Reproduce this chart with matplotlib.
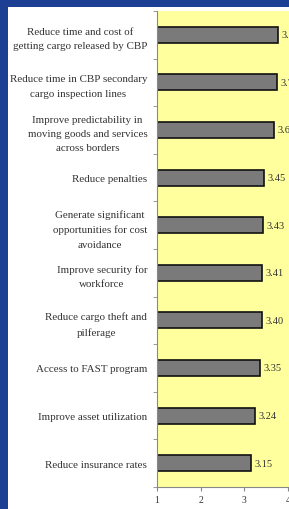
import matplotlib.pyplot as plt
from matplotlib.patches import Rectangle
import numpy as np

# Benefit categories, top to bottom
categories = [
    "Reduce time and cost of\ngetting cargo released by CBP",
    "Reduce time in CBP secondary\ncargo inspection lines",
    "Improve predictability in\nmoving goods and services\nacross borders",
    "Reduce penalties",
    "Generate significant\nopportunities for cost\navoidance",
    "Improve security for\nworkforce",
    "Reduce cargo theft and\npilferage",
    "Access to FAST program",
    "Improve asset utilization",
    "Reduce insurance rates",
]
scores = [3.78, 3.75, 3.67, 3.45, 3.43, 3.41, 3.40, 3.35, 3.24, 3.15]
x_ticks = [1, 2, 3, 4]

W, H = 289, 510
fig = plt.figure(figsize=(W / 100, H / 100), dpi=100)
fig.patch.set_facecolor("#1c3f94")
# white slide panel
fig.patches.append(Rectangle((8 / W, 0), 1, (H - 8) / H, transform=fig.transFigure,
                             facecolor="white", edgecolor="none", zorder=-10))

px_per_unit = 43.7
ax = fig.add_axes([157 / W, 22 / H, 3.6 * px_per_unit / W, 476 / H])
ax.set_facecolor("#ffff9e")

y = np.arange(len(categories))
ax.barh(y, [s - 1 for s in scores], left=1, height=0.34, color="#7a7a7a",
        edgecolor="#111111", linewidth=1.2)
for yi, s in zip(y, scores):
    ax.text(s + 0.08, yi, f"{s:.2f}", va="center", ha="left", fontsize=7.5,
            family="Liberation Serif", color="#333333", clip_on=False)

ax.set_xlim(1, 4.6)
ax.set_ylim(len(categories) - 0.5, -0.5)
ax.set_xticks(x_ticks)
ax.set_xticklabels([str(t) for t in x_ticks], family="Liberation Serif", fontsize=7)
ax.set_yticks(y)
ax.set_yticklabels(categories, family="Liberation Serif", fontsize=7.9,
                   linespacing=1.75, multialignment="center", color="#333333")
ax.set_yticks(np.arange(-0.5, len(categories), 1), minor=True)
ax.tick_params(axis="y", which="major", length=0, pad=7)
ax.tick_params(axis="y", which="minor", length=3, color="#888888")
ax.tick_params(axis="x", length=3, color="#888888", pad=3, labelcolor="#333333")

for side in ["top", "right"]:
    ax.spines[side].set_visible(False)
ax.spines["left"].set_color("#888888")
ax.spines["bottom"].set_color("#888888")

fig.savefig("out.png", dpi=100)
